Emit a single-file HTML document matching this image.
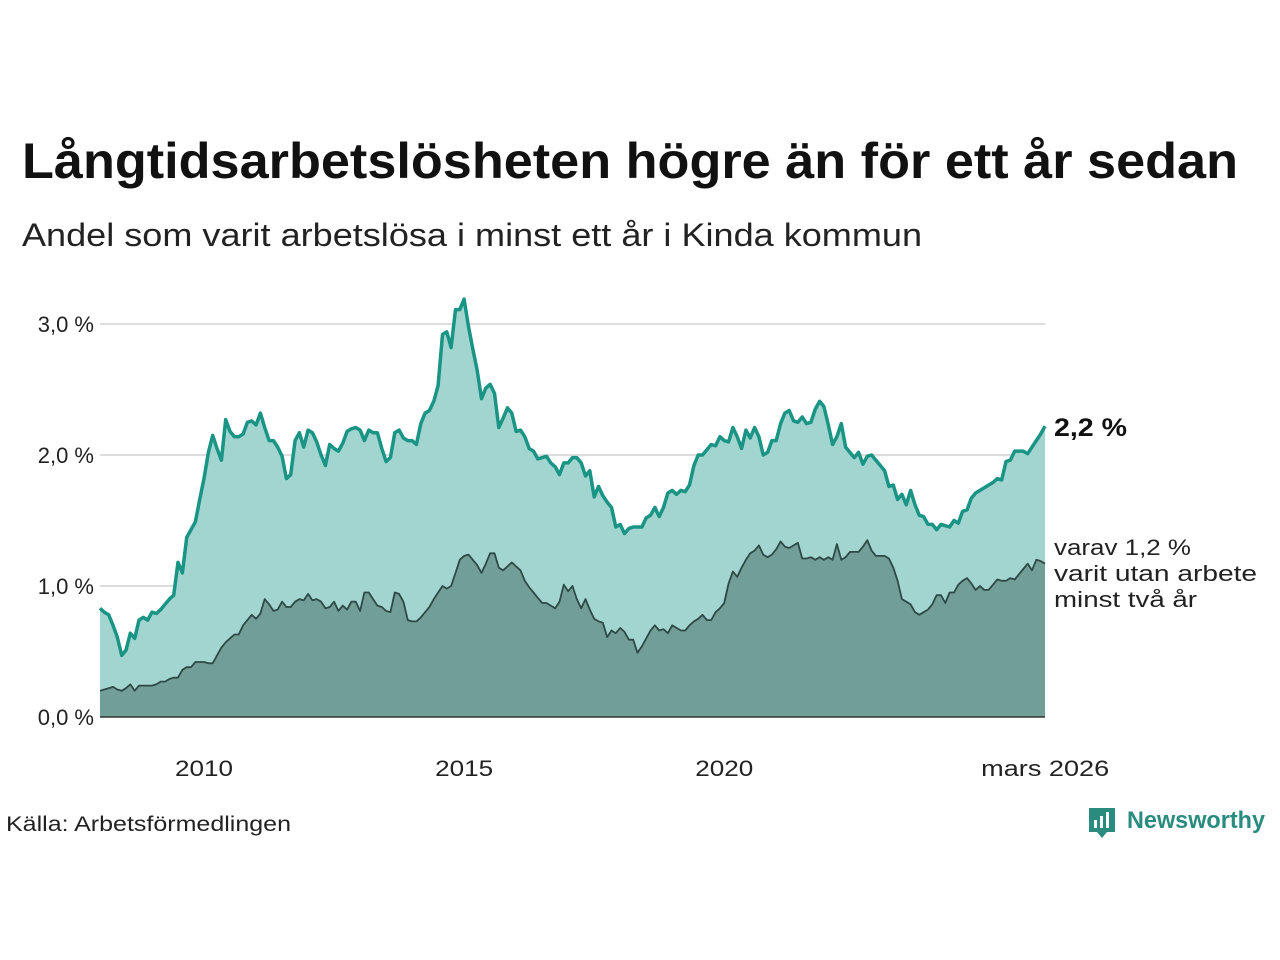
<!DOCTYPE html>
<html><head><meta charset="utf-8">
<style>
html,body{margin:0;padding:0;background:#fff;}
svg{display:block;font-family:"Liberation Sans",sans-serif;}
</style></head>
<body>
<svg id="chart" width="1280" height="960" viewBox="0 0 1280 960" xmlns="http://www.w3.org/2000/svg">
<text x="22" y="178" font-size="50" font-weight="bold" fill="#111" textLength="1216" lengthAdjust="spacingAndGlyphs">Långtidsarbetslösheten högre än för ett år sedan</text>
<text x="22" y="246" font-size="32" fill="#222" textLength="900" lengthAdjust="spacingAndGlyphs">Andel som varit arbetslösa i minst ett år i Kinda kommun</text>
<g id="grid"></g>
<g id="areas"></g>
<g id="axes"></g>
<text x="1054" y="436" font-size="25" font-weight="bold" fill="#111" textLength="73" lengthAdjust="spacingAndGlyphs">2,2 %</text>
<g font-size="22" fill="#222">
<text x="1054" y="555" textLength="137" lengthAdjust="spacingAndGlyphs">varav 1,2 %</text>
<text x="1054" y="581" textLength="203" lengthAdjust="spacingAndGlyphs">varit utan arbete</text>
<text x="1054" y="607" textLength="143" lengthAdjust="spacingAndGlyphs">minst två år</text>
</g>
<text x="6" y="831" font-size="21" fill="#222" textLength="285" lengthAdjust="spacingAndGlyphs">Källa: Arbetsförmedlingen</text>
<g>
<path d="M1089 808 h26 v24 h-8 l-5 6 l-5 -6 h-8 z" fill="#2a8c7f"/>
<rect x="1094" y="820" width="3" height="8" fill="#fff"/>
<rect x="1100" y="816" width="3" height="12" fill="#fff"/>
<rect x="1106" y="812" width="3" height="16" fill="#fff"/>
<text x="1127" y="828" font-size="24" font-weight="bold" fill="#2a8c7f" textLength="138" lengthAdjust="spacingAndGlyphs">Newsworthy</text>
</g>
</svg>
<script>
const totalValues = [
0.83,0.80,0.78,0.70,0.61,0.47,0.51,0.64,0.60,0.74,0.76,0.74,
0.80,0.79,0.82,0.86,0.90,0.93,1.18,1.10,1.37,1.43,1.49,1.66,
1.82,2.02,2.15,2.05,1.96,2.27,2.18,2.14,2.14,2.16,2.25,2.26,
2.23,2.32,2.21,2.11,2.11,2.06,1.99,1.82,1.85,2.11,2.17,2.06,
2.19,2.17,2.10,2.00,1.92,2.08,2.05,2.03,2.09,2.18,2.20,2.21,
2.19,2.11,2.19,2.17,2.17,2.05,1.95,1.98,2.17,2.19,2.13,2.11,
2.11,2.08,2.24,2.32,2.34,2.41,2.53,2.92,2.94,2.82,3.11,3.11,
3.19,2.98,2.81,2.65,2.43,2.51,2.54,2.47,2.21,2.28,2.36,2.32,
2.18,2.19,2.14,2.05,2.03,1.97,1.98,1.99,1.94,1.91,1.85,1.94,
1.94,1.98,1.98,1.94,1.84,1.88,1.68,1.76,1.69,1.64,1.60,1.45,
1.47,1.40,1.44,1.45,1.45,1.45,1.52,1.54,1.60,1.53,1.60,1.71,
1.73,1.70,1.73,1.72,1.77,1.92,2.00,2.00,2.04,2.08,2.07,2.14,
2.11,2.10,2.21,2.14,2.05,2.19,2.13,2.21,2.14,2.00,2.02,2.11,
2.11,2.24,2.32,2.34,2.26,2.25,2.29,2.24,2.25,2.35,2.41,2.37,
2.23,2.08,2.14,2.24,2.06,2.02,1.98,2.02,1.93,1.99,2.00,1.96,
1.92,1.88,1.76,1.77,1.66,1.70,1.62,1.73,1.62,1.54,1.53,1.47,
1.47,1.43,1.47,1.46,1.45,1.50,1.48,1.57,1.58,1.67,1.71,1.73,
1.75,1.77,1.79,1.82,1.81,1.95,1.96,2.03,2.03,2.03,2.01,2.06,
2.11,2.16,2.22];
const twoYearValues = [
0.20,0.21,0.22,0.23,0.21,0.20,0.22,0.25,0.20,0.24,0.24,0.24,
0.24,0.25,0.27,0.27,0.29,0.30,0.30,0.36,0.38,0.38,0.42,0.42,
0.42,0.41,0.41,0.47,0.53,0.57,0.60,0.63,0.63,0.70,0.74,0.78,
0.75,0.79,0.90,0.86,0.81,0.82,0.88,0.84,0.84,0.88,0.90,0.89,
0.94,0.89,0.90,0.88,0.83,0.84,0.88,0.81,0.85,0.82,0.88,0.88,
0.81,0.95,0.95,0.90,0.85,0.84,0.81,0.80,0.95,0.94,0.88,0.74,
0.73,0.73,0.76,0.80,0.84,0.90,0.95,1.00,0.98,1.00,1.10,1.20,
1.23,1.24,1.20,1.16,1.10,1.17,1.25,1.25,1.14,1.12,1.15,1.18,
1.15,1.12,1.04,0.99,0.95,0.91,0.87,0.87,0.85,0.83,0.88,1.01,
0.96,1.00,0.90,0.83,0.90,0.82,0.75,0.73,0.72,0.61,0.66,0.64,
0.68,0.65,0.59,0.59,0.49,0.54,0.60,0.66,0.70,0.66,0.67,0.64,
0.70,0.68,0.66,0.66,0.70,0.73,0.75,0.78,0.74,0.74,0.80,0.83,
0.87,1.02,1.11,1.07,1.14,1.20,1.25,1.27,1.31,1.24,1.22,1.24,
1.28,1.34,1.30,1.29,1.31,1.33,1.21,1.21,1.22,1.20,1.22,1.20,
1.22,1.20,1.32,1.20,1.22,1.26,1.26,1.26,1.30,1.35,1.27,1.23,
1.23,1.23,1.21,1.14,1.04,0.90,0.88,0.86,0.80,0.78,0.80,0.82,
0.86,0.93,0.93,0.87,0.95,0.95,1.01,1.04,1.06,1.02,0.97,1.00,
0.97,0.97,1.01,1.05,1.04,1.04,1.06,1.05,1.09,1.13,1.17,1.12,
1.20,1.19,1.17];
const yTicks = [0,1,2,3];
const yTickLabels = ["0,0 %","1,0 %","2,0 %","3,0 %"];
const xTickYears = [2010,2015,2020,2026.17];
const xTickLabels = ["2010","2015","2020","mars 2026"];
const startYear = 2008;

const NS="http://www.w3.org/2000/svg";
const x0=100, x1=1045, yBase=717, yScale=131;
const nMonths = totalValues.length-1;
function xMonth(i){return x0+(x1-x0)*i/nMonths;}
function xYear(y){return x0+(y-startYear)*12*(x1-x0)/nMonths;}
function yVal(v){return yBase-v*yScale;}
function mk(tag,attrs,parent){const e=document.createElementNS(NS,tag);for(const k in attrs)e.setAttribute(k,attrs[k]);parent.appendChild(e);return e;}

const grid=document.getElementById('grid');
yTicks.forEach((t,i)=>{
  if(t>0){const l=mk('line',{x1:x0,x2:x1,y1:yVal(t),y2:yVal(t),stroke:'#dddddd','stroke-width':2},grid);
  
  }
  const tx=mk('text',{x:94,y:yVal(t)+8,'font-size':22,'text-anchor':'end',fill:'#222'},grid);
  tx.textContent=yTickLabels[i];
  
  
});
const axes=document.getElementById('axes');
xTickYears.forEach((y,i)=>{
  const tx=mk('text',{x:xYear(y),y:776,'font-size':22,'text-anchor':'middle',fill:'#222'},axes);
  tx.textContent=xTickLabels[i];
  if(i===3){tx.setAttribute('textLength',128);tx.setAttribute('lengthAdjust','spacingAndGlyphs');}
  else{tx.setAttribute('textLength',58);tx.setAttribute('lengthAdjust','spacingAndGlyphs');}
  
  
});
function linePts(arr){return arr.map((v,i)=>xMonth(i).toFixed(1)+','+yVal(v).toFixed(1)).join(' ');}
const areas=document.getElementById('areas');
const a1=mk('polygon',{points:x0+','+yBase+' '+linePts(totalValues)+' '+x1+','+yBase,fill:'#a3d5d0'},areas);


const a2=mk('polygon',{points:x0+','+yBase+' '+linePts(twoYearValues)+' '+x1+','+yBase,fill:'#729e98'},areas);


const l1=mk('polyline',{points:linePts(totalValues),fill:'none',stroke:'#1a9484','stroke-width':3.5,'stroke-linejoin':'round'},areas);


const l2=mk('polyline',{points:linePts(twoYearValues),fill:'none',stroke:'#2d4a46','stroke-width':1.8,'stroke-linejoin':'round'},areas);


const base=mk('line',{x1:x0,x2:x1,y1:yBase,y2:yBase,stroke:'#333','stroke-width':1.5},areas);


</script>
</body></html>
